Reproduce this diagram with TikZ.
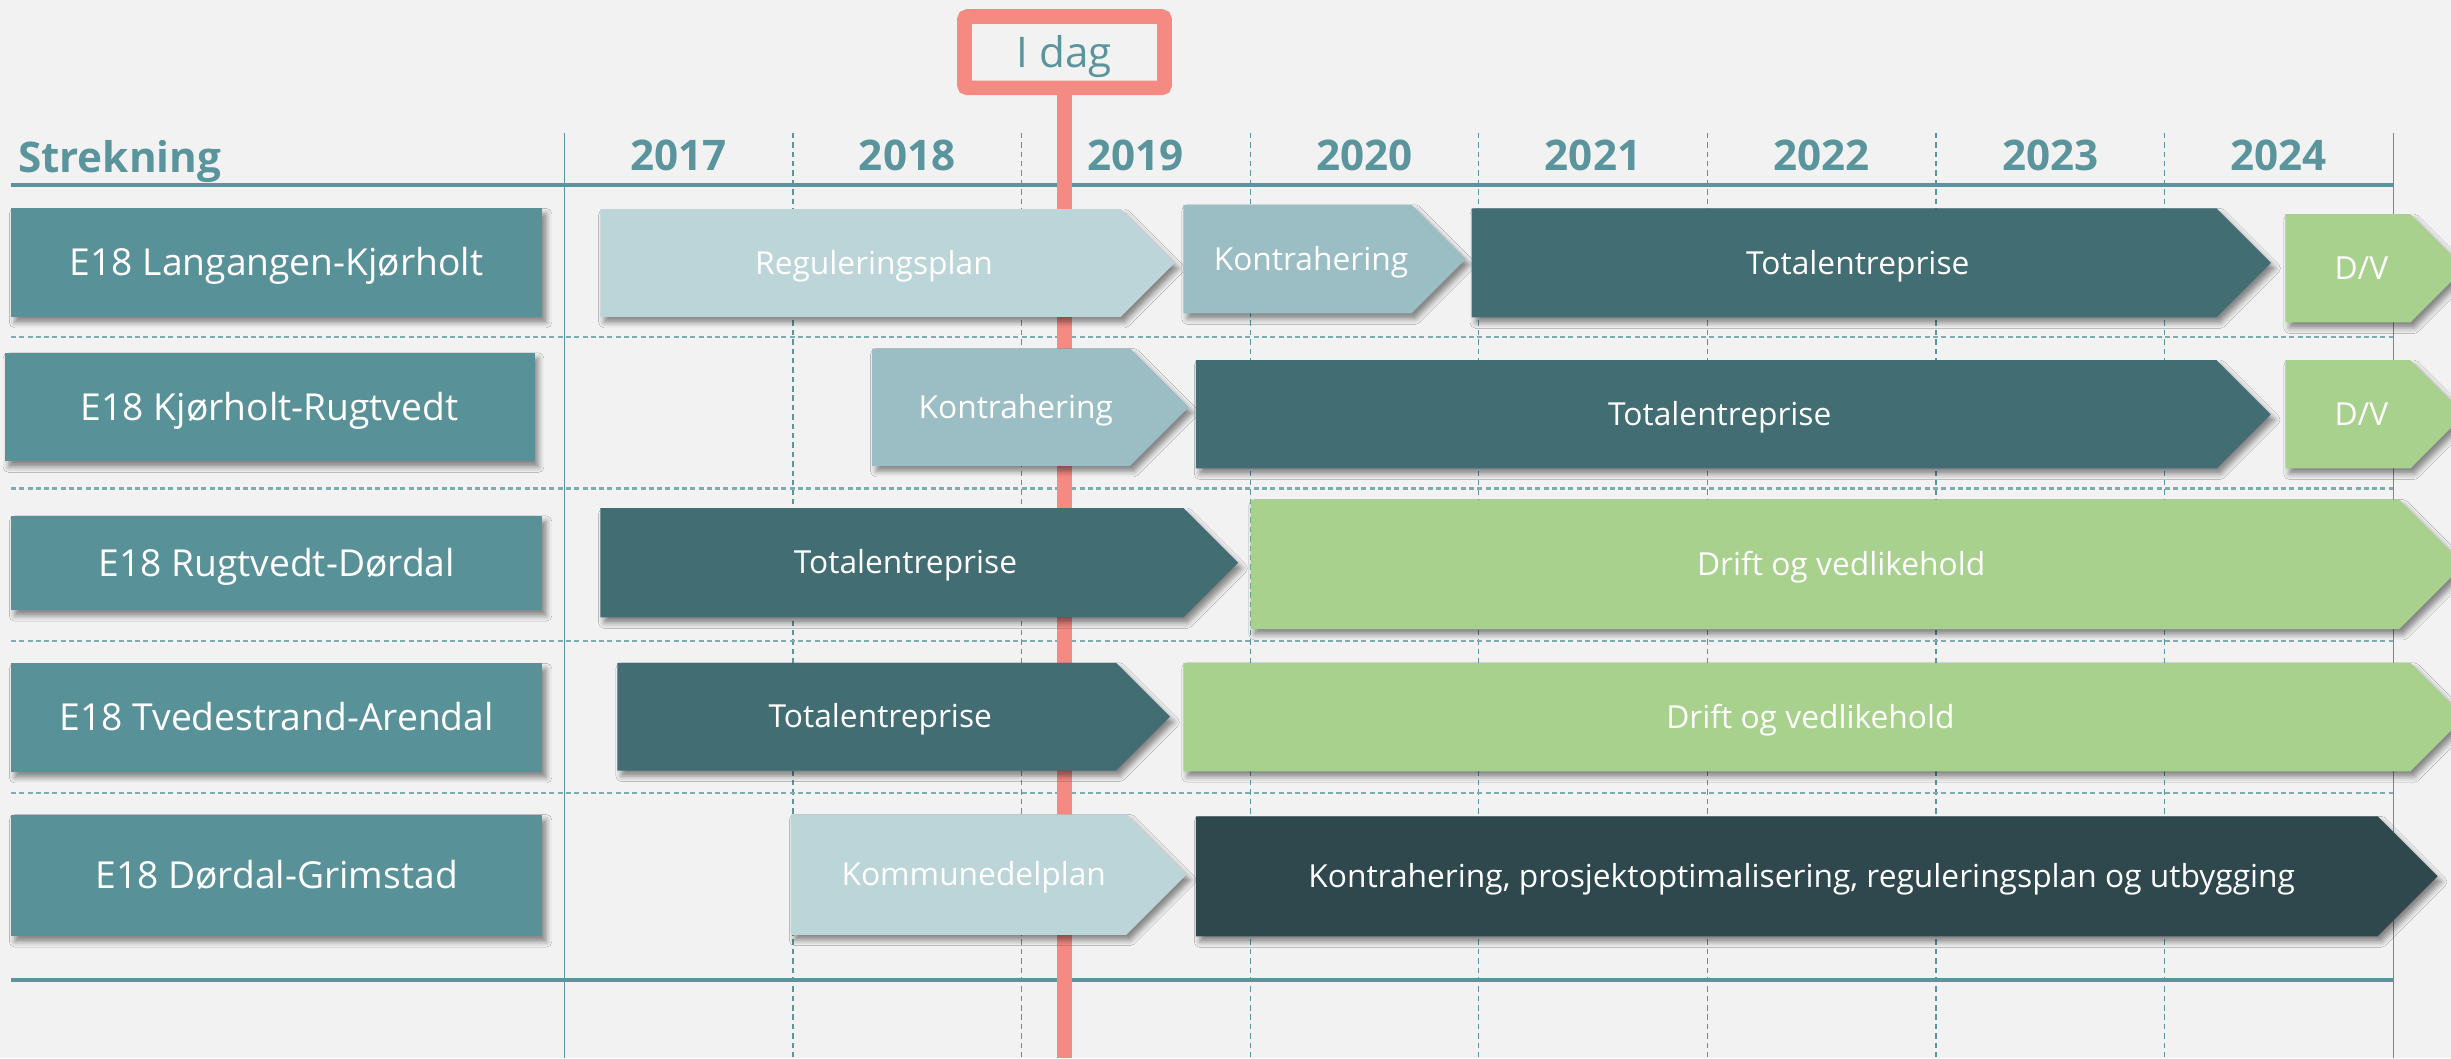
\documentclass[tikz,border=0pt]{standalone}
\usepackage{fontspec}
\setmainfont{Open Sans}
\usetikzlibrary{calc,shadows.blur}

\definecolor{bakgrunn}{HTML}{F2F2F2}
\definecolor{tittel}{HTML}{5A949C}
\definecolor{strekfarge}{HTML}{599198}
\definecolor{lysblaa}{HTML}{BCD5D8}
\definecolor{midblaa}{HTML}{9ABEC4}
\definecolor{morkblaa}{HTML}{426D73}
\definecolor{nattblaa}{HTML}{2E484E}
\definecolor{gronn}{HTML}{A9D18E}
\definecolor{rosa}{HTML}{F48A82}
\definecolor{prikk}{HTML}{80ABB1}

\tikzset{%
	skygge/.style     = {blur shadow={shadow xshift=2.5pt, shadow yshift=-3.5pt, shadow blur radius=3.5pt, shadow opacity=45}},
	strekning/.style  = {rectangle, fill=strekfarge, text=white, skygge, minimum width=340pt, minimum height=69.4pt, text height=17pt, text depth=0pt, font=\fontsize{23.8}{28}\selectfont},
	fase/.style       = {skygge},
	fasetekst/.style  = {text=white, text height=14.3pt, text depth=0pt, inner sep=0pt, font=\fontsize{20.3}{24}\selectfont},
	aar/.style        = {anchor=base, text=tittel, font=\bfseries\fontsize{27}{32}\selectfont},
	kolonne/.style    = {tittel, line width=0.8pt, dash pattern=on 3.5pt off 2.5pt},
	ramme/.style      = {tittel, line width=0.85pt},
	hovedlinje/.style = {tittel, line width=2.6pt},
	skille/.style     = {prikk, line width=1.3pt, dash pattern=on 3.2pt off 2.1pt},
	idag/.style       = {draw=rosa, line width=9.4pt, fill=bakgrunn, rounded corners=2pt, minimum width=128pt, minimum height=45.6pt, text height=19.3pt, text depth=0pt, text=tittel, font=\fontsize{27}{32}\selectfont},
	stang/.style      = {rosa, line width=9pt},
}

% navn, x1, x2, y topp, y bunn, farge, tekst
\newcommand{\fase}[7]{%
	\fill[fase, #6] (#2,#4) -- (#3,#4) -- ({#3+(#5-#4)/2},{(#4+#5)/2}) -- (#3,#5) -- (#2,#5) -- cycle;
	\node[fasetekst] (#1) at ({(#2+#3)/2+(#5-#4)/8},{(#4+#5)/2}) {#7};
}

\begin{document}
\begin{tikzpicture}[x=1pt,y=-1pt]
	\useasboundingbox (0,0) rectangle (1568,677);
	\clip (0,0) rectangle (1568,677);
	\fill[bakgrunn] (0,0) rectangle (1568,677);
	% rutenett
	\draw[ramme] (361,85) -- (361,677);
	\draw[ramme] (1531,85) -- (1531,677);
	\foreach \k in {1,...,7}
		\draw[kolonne] ({361+146.25*\k},85) -- ({361+146.25*\k},677);
	\foreach \y in {215.5,312.5,410,507.2}
		\draw[skille] (7,\y) -- (1531,\y);
	\draw[hovedlinje] (7,118.4) -- (1531,118.4);
	\draw[hovedlinje] (7,626.7) -- (1531,626.7);
	% overskrift
	\node[aar, anchor=base west] (strekn) at (8,110.5) {Strekning};
	\foreach \aar [count=\i from 0] in {2017,...,2024}
		\node[aar] (a\aar) at ({434.1+146.25*\i},109.3) {\aar};
	% i dag
	\node[idag] (idag) at (681,33.4) {I dag};
	\coordinate (bunn) at (681,677);
	\draw[stang] (idag.south) -- (bunn);
	% strekninger
	\node[strekning] (s1) at (177,168) {E18 Langangen-Kjørholt};
	\node[strekning, minimum width=339pt] (s2) at (172.5,260.5) {E18 Kjørholt-Rugtvedt};
	\node[strekning, minimum height=60.4pt] (s3) at (177,360.2) {E18 Rugtvedt-Dørdal};
	\node[strekning, minimum height=69.6pt] (s4) at (177,459.1) {E18 Tvedestrand-Arendal};
	\node[strekning, minimum height=77.8pt] (s5) at (177,560) {E18 Dørdal-Grimstad};
	% faser
	\fase{r1a}{384}{717}{133.8}{202.7}{lysblaa}{Reguleringsplan}
	\fase{r1b}{757}{903}{131}{200.5}{midblaa}{Kontrahering}
	\fase{r1c}{941.5}{1418}{133.3}{203}{morkblaa}{Totalentreprise}
	\fase{r1d}{1462}{1542}{137}{206.3}{gronn}{D/V}
	\fase{r2a}{558}{723}{223}{298}{midblaa}{Kontrahering}
	\fase{r2b}{765}{1418}{230.4}{299.7}{morkblaa}{Totalentreprise}
	\fase{r2c}{1462}{1542}{230.4}{299.7}{gronn}{D/V}
	\fase{r3a}{384}{757}{325}{395}{morkblaa}{Totalentreprise}
	\fase{r3b}{800}{1535}{319.7}{402.4}{gronn}{Drift og vedlikehold}
	\fase{r4a}{395}{714}{424}{493}{morkblaa}{Totalentreprise}
	\fase{r4b}{757}{1542}{424}{493.4}{gronn}{Drift og vedlikehold}
	\fase{r5a}{506}{720.6}{521}{598}{lysblaa}{Kommunedelplan}
	\fase{r5b}{765}{1521}{522.2}{599}{nattblaa}{Kontrahering, prosjektoptimalisering, reguleringsplan og utbygging}
\end{tikzpicture}
\end{document}
